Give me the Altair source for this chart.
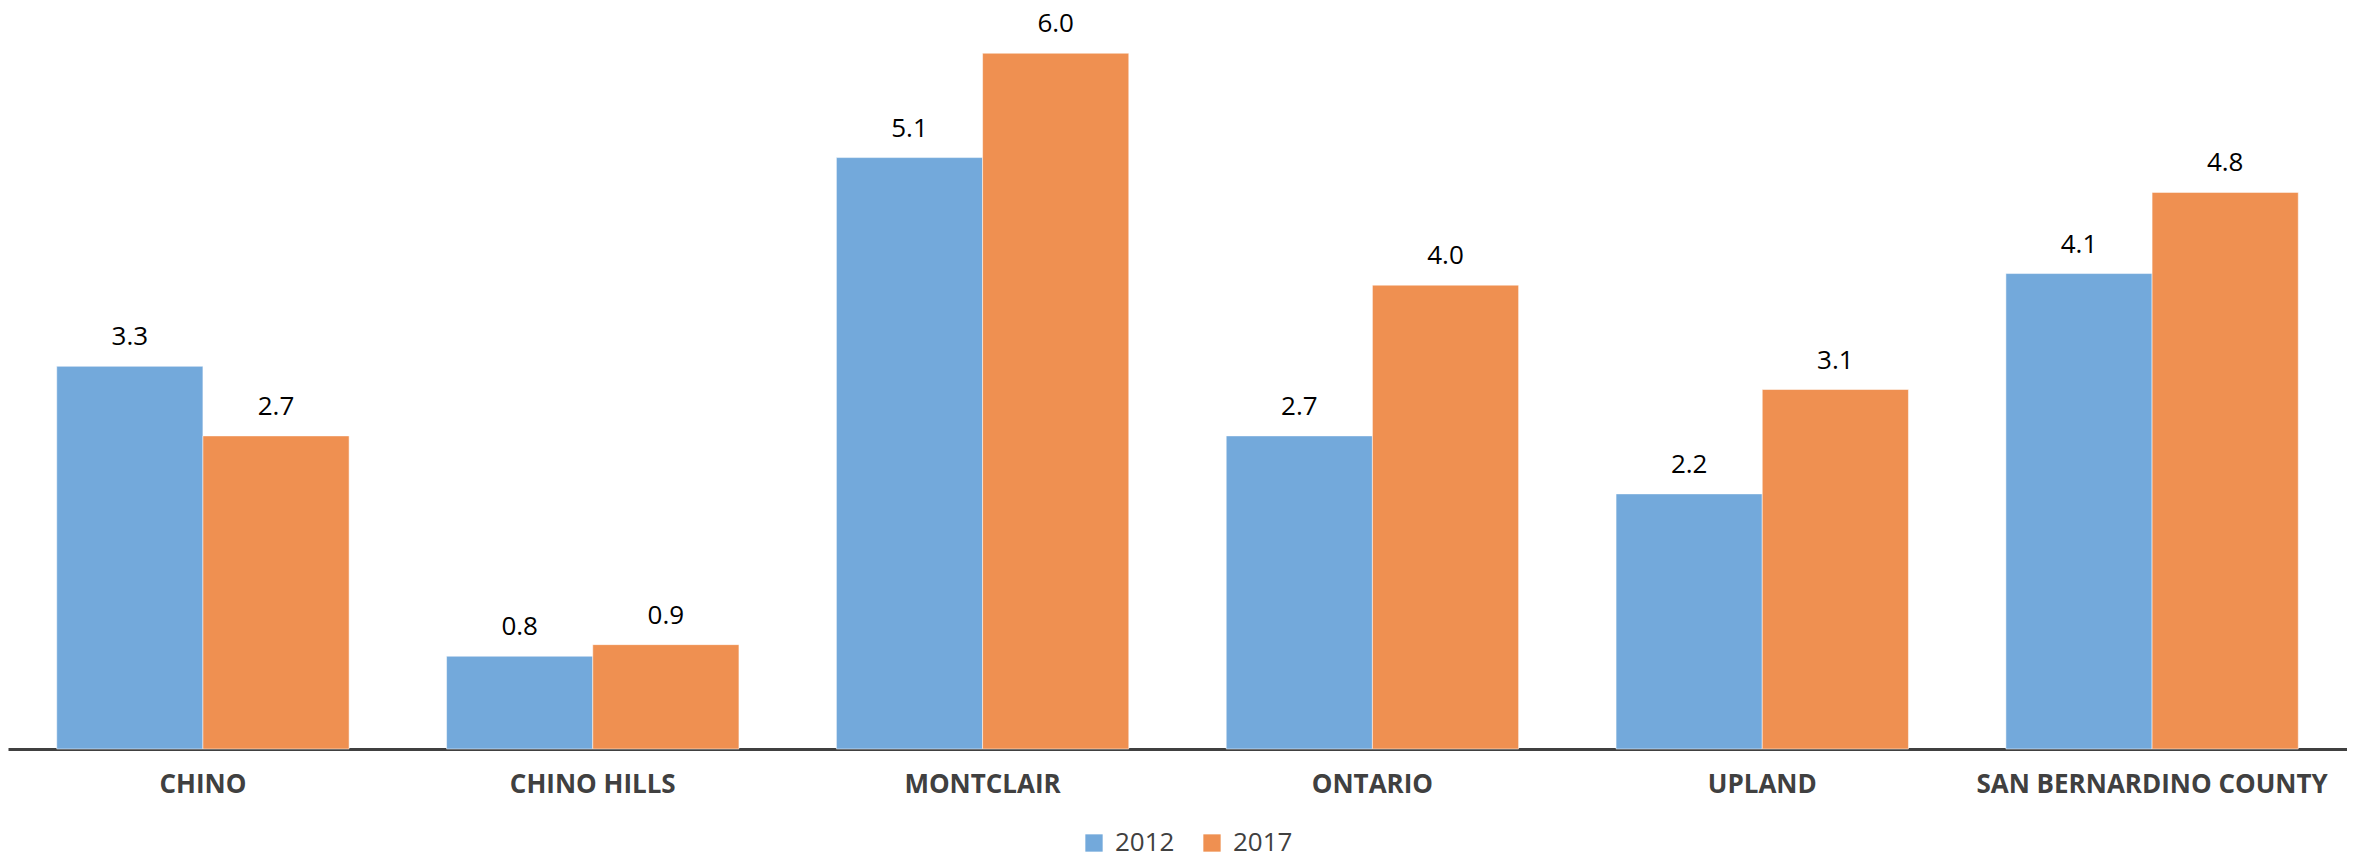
import altair as alt
import pandas as pd

cities = ["CHINO", "CHINO HILLS", "MONTCLAIR", "ONTARIO", "UPLAND", "SAN BERNARDINO COUNTY"]
years = ["2012", "2017"]
v2012 = [3.3, 0.8, 5.1, 2.7, 2.2, 4.1]
v2017 = [2.7, 0.9, 6.0, 4.0, 3.1, 4.8]
colors = ["#73A9DB", "#EF9051"]

rows = []
for c, a, b in zip(cities, v2012, v2017):
    rows.append({"city": c, "year": "2012", "value": a})
    rows.append({"city": c, "year": "2017", "value": b})
df = pd.DataFrame(rows)

FONT = "Open Sans"

x = alt.X("city:N", sort=cities, title=None,
          scale=alt.Scale(paddingInner=0.25, paddingOuter=0.125),
          axis=alt.Axis(labelAngle=0, labelFontSize=26, labelFontWeight="bold",
                        labelColor="#404040", labelFont=FONT, labelPadding=22,
                        ticks=False, domainColor="#404040", domainWidth=3,
                        labelLimit=600))
y = alt.Y("value:Q", scale=alt.Scale(domain=[0, 6.39], nice=False), axis=None, title=None)

base = alt.Chart(df).encode(
    x=x, y=y,
    xOffset=alt.XOffset("year:N", sort=years),
)

bars = base.mark_bar(stroke="#ffffff", strokeWidth=1, strokeOpacity=0.5).encode(
    color=alt.Color("year:N", sort=years,
                    scale=alt.Scale(domain=years, range=colors),
                    legend=alt.Legend(title=None, orient="none", direction="horizontal",
                                      legendX=1073, legendY=822,
                                      symbolType="square", symbolSize=300, symbolStrokeWidth=0,
                                      labelFontSize=26, labelColor="#404040", labelFont=FONT,
                                      columnPadding=24, labelOffset=8))
)

labels = base.mark_text(baseline="bottom", dy=-16, fontSize=26, font=FONT, color="#000000").encode(
    text=alt.Text("value:Q", format=".1f")
)

chart = (bars + labels).properties(width=2339, height=741, padding=0).configure(
    background="#ffffff"
).configure_view(stroke=None)

chart.save("out.html", embed_options={"renderer": "svg", "actions": False})
